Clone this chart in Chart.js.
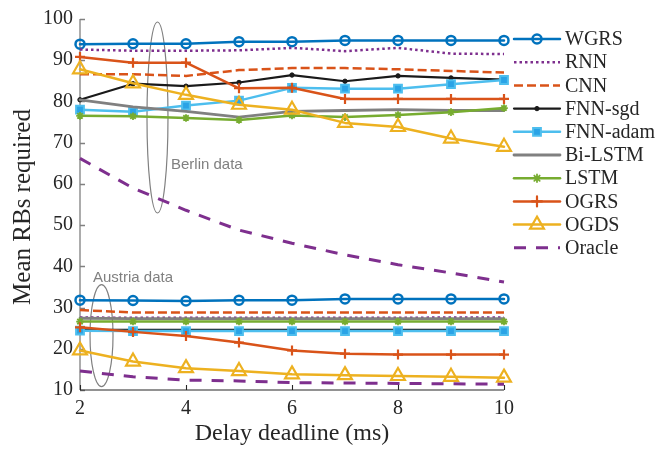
<!DOCTYPE html>
<html>
<head>
<meta charset="utf-8">
<script src="https://cdn.jsdelivr.net/npm/chart.js@4"></script>
<style>
  html, body { margin: 0; padding: 0; background: #fff; }
  #c { display: block; }
</style>
</head>
<body>
<canvas id="c" width="670" height="451"></canvas>
<script>
// Delay deadlines (ms) on the x axis
const deadlines = [2, 3, 4, 5, 6, 7, 8, 9, 10];
const xTicks = [2, 4, 6, 8, 10];
const yTicks = [10, 20, 30, 40, 50, 60, 70, 80, 90, 100];

// Method names, in legend order
const methods = ['WGRS', 'RNN', 'CNN', 'FNN-sgd', 'FNN-adam', 'Bi-LSTM', 'LSTM', 'OGRS', 'OGDS', 'Oracle'];

// Mean RBs required, Berlin data
const berlinWGRS    = [93.9, 94.0, 94.0, 94.5, 94.5, 94.8, 94.8, 94.8, 94.8];
const berlinRNN     = [92.6, 92.3, 92.3, 92.4, 93.0, 92.2, 93.0, 91.6, 91.5];
const berlinCNN     = [86.6, 86.6, 86.2, 87.6, 88.1, 88.1, 87.8, 87.4, 87.0];
const berlinFNNsgd  = [80.4, 84.3, 83.7, 84.6, 86.4, 84.9, 86.2, 85.7, 85.3];
const berlinFNNadam = [78.0, 77.5, 79.0, 80.2, 83.3, 83.1, 83.1, 84.2, 85.2];
const berlinBiLSTM  = [80.4, 78.7, 77.6, 76.2, 77.6, 77.8, 78.0, 77.8, 77.8];
const berlinLSTM    = [76.5, 76.4, 76.0, 75.5, 76.6, 76.2, 76.7, 77.4, 78.4];
const berlinOGRS    = [90.8, 89.4, 89.4, 83.2, 83.3, 80.6, 80.6, 80.6, 80.6];
const berlinOGDS    = [87.8, 84.4, 81.6, 79.2, 78.0, 74.8, 73.8, 71.0, 69.0];
const berlinOracle  = [66.2, 59.0, 53.6, 48.8, 45.6, 42.8, 40.4, 38.4, 36.2];

// Mean RBs required, Austria data
const austriaWGRS    = [31.8, 31.7, 31.6, 31.8, 31.8, 32.1, 32.1, 32.1, 32.1];
const austriaRNN     = [27.6, 27.5, 27.5, 27.5, 27.5, 27.5, 27.5, 27.6, 27.6];
const austriaCNN     = [29.4, 28.8, 28.8, 28.8, 28.8, 28.8, 28.8, 28.8, 28.8];
const austriaFNNsgd  = [24.6, 24.6, 24.6, 24.6, 24.6, 24.6, 24.6, 24.6, 24.6];
const austriaFNNadam = [24.4, 24.3, 24.3, 24.3, 24.3, 24.3, 24.3, 24.3, 24.3];
const austriaBiLSTM  = [27.4, 27.3, 27.3, 27.3, 27.3, 27.3, 27.3, 27.3, 27.3];
const austriaLSTM    = [26.6, 26.6, 26.6, 26.6, 26.6, 26.6, 26.6, 26.6, 26.6];
const austriaOGRS    = [25.2, 24.1, 23.1, 21.5, 19.6, 18.8, 18.6, 18.6, 18.6];
const austriaOGDS    = [19.6, 16.9, 15.3, 14.6, 13.8, 13.6, 13.4, 13.2, 13.0];
const austriaOracle  = [14.6, 13.2, 12.4, 12.2, 11.8, 11.7, 11.6, 11.5, 11.4];

const berlinSeries  = [berlinWGRS, berlinRNN, berlinCNN, berlinFNNsgd, berlinFNNadam,
                       berlinBiLSTM, berlinLSTM, berlinOGRS, berlinOGDS, berlinOracle];
const austriaSeries = [austriaWGRS, austriaRNN, austriaCNN, austriaFNNsgd, austriaFNNadam,
                       austriaBiLSTM, austriaLSTM, austriaOGRS, austriaOGDS, austriaOracle];

// Line / marker style per method
const styles = [
  { color: '#0072BD', width: 2.5, dash: [], point: 'circle', r: 4.5, fill: 'rgba(0,0,0,0)', pw: 2.5 },
  { color: '#7E2F8E', width: 2.5, dash: [2.5, 3], point: false },
  { color: '#D95319', width: 2.5, dash: [9, 4], point: false },
  { color: '#1a1a1a', width: 2.2, dash: [], point: 'circle', r: 2.2, fill: '#1a1a1a', pw: 1 },
  { color: '#4DBEEE', width: 2.5, dash: [], point: 'rect', r: 5.5, fill: '#2AA3E6', pw: 2 },
  { color: '#808080', width: 2.8, dash: [], point: false },
  { color: '#77AC30', width: 2.5, dash: [], point: 'star', r: 3.8, fill: 'rgba(0,0,0,0)', pw: 1.8 },
  { color: '#D95319', width: 2.5, dash: [], point: 'cross', r: 5, fill: 'rgba(0,0,0,0)', pw: 2.2 },
  { color: '#EDB120', width: 2.5, dash: [], point: 'triangle', r: 8, fill: 'rgba(0,0,0,0)', pw: 2.2 },
  { color: '#7E2F8E', width: 3, dash: [12, 10], point: false }
];

function makeDataset(name, values, st, idx, group) {
  return {
    label: name,
    group: group,
    data: deadlines.map((d, i) => ({ x: d, y: values[i] })),
    borderColor: st.color,
    borderWidth: st.width,
    borderDash: st.dash,
    borderCapStyle: st.dash.length ? 'butt' : 'round',
    borderJoinStyle: 'round',
    pointStyle: st.point || 'circle',
    pointRadius: st.point ? st.r : 0,
    pointBorderWidth: st.pw || 0,
    pointBorderColor: st.color,
    pointBackgroundColor: st.fill || 'rgba(0,0,0,0)',
    tension: 0,
    fill: false,
    clip: false,
    order: 100 - idx
  };
}

const datasets = [];
methods.forEach((m, i) => datasets.push(makeDataset(m, berlinSeries[i], styles[i], i, 'Berlin')));
methods.forEach((m, i) => datasets.push(makeDataset(m, austriaSeries[i], styles[i], i, 'Austria')));

const SERIF = '"Liberation Serif", "Times New Roman", serif';
const SANS = '"Liberation Sans", Arial, sans-serif';

// Axes, tick marks, axis titles, annotations and legend
const decorations = {
  id: 'decorations',
  beforeDatasetsDraw(chart) {
    const ctx = chart.ctx;
    const xs = chart.scales.x, ys = chart.scales.y;
    const L = xs.left, R = xs.right, T = ys.top, B = ys.bottom;
    ctx.save();
    ctx.setLineDash([]);
    // left axis (gray) with inward ticks
    ctx.strokeStyle = '#808080';
    ctx.lineWidth = 1.3;
    ctx.beginPath();
    ctx.moveTo(L, T); ctx.lineTo(L, B);
    yTicks.forEach(v => {
      const y = Math.round(ys.getPixelForValue(v)) + 0.5;
      ctx.moveTo(L, y); ctx.lineTo(L + 5, y);
    });
    ctx.stroke();
    // bottom axis (black) with inward ticks
    ctx.strokeStyle = '#262626';
    ctx.lineWidth = 1.1;
    ctx.beginPath();
    ctx.moveTo(L, B); ctx.lineTo(R, B);
    xTicks.forEach(v => {
      const x = Math.round(xs.getPixelForValue(v)) + 0.5;
      ctx.moveTo(x, B); ctx.lineTo(x, B - 5);
    });
    ctx.stroke();

    // group ellipses
    ctx.strokeStyle = '#808080';
    ctx.lineWidth = 1.2;
    ctx.beginPath();
    ctx.ellipse(xs.getPixelForValue(3.462), ys.getPixelForValue(76.1), 10.5, 95.5, 0, 0, Math.PI * 2);
    ctx.stroke();
    ctx.beginPath();
    ctx.ellipse(xs.getPixelForValue(2.406), ys.getPixelForValue(23.2), 11.5, 51, 0, 0, Math.PI * 2);
    ctx.stroke();

    ctx.fillStyle = '#808080';
    ctx.font = '15px ' + SANS;
    ctx.textAlign = 'left';
    ctx.textBaseline = 'middle';
    ctx.fillText('Berlin data', xs.getPixelForValue(3.717), ys.getPixelForValue(64.7));
    ctx.fillText('Austria data', xs.getPixelForValue(2.245), ys.getPixelForValue(37.1));
    ctx.restore();
  },
  afterDraw(chart) {
    const ctx = chart.ctx;
    const xs = chart.scales.x, ys = chart.scales.y;
    ctx.save();
    // axis titles
    ctx.fillStyle = '#262626';
    ctx.textAlign = 'center';
    ctx.textBaseline = 'middle';
    ctx.font = '24px ' + SERIF;
    ctx.fillText('Delay deadline (ms)', (xs.left + xs.right) / 2, 434);
    ctx.save();
    ctx.translate(23, 207);
    ctx.rotate(-Math.PI / 2);
    ctx.font = '25px ' + SERIF;
    ctx.fillText('Mean RBs required', 0, 0);
    ctx.restore();

    // legend: one entry per method
    const x0 = 514, x1 = 560, xm = 537, tx = 565;
    methods.forEach((m, i) => {
      const ds = chart.data.datasets[i];
      const y = 39 + i * 23.2;
      ctx.strokeStyle = ds.borderColor;
      ctx.lineWidth = ds.borderWidth;
      ctx.setLineDash(ds.borderDash);
      ctx.lineCap = ds.borderDash.length ? 'butt' : 'round';
      ctx.beginPath();
      ctx.moveTo(x0, y); ctx.lineTo(x1, y);
      ctx.stroke();
      ctx.setLineDash([]);
      if (ds.pointRadius > 0) {
        ctx.fillStyle = ds.pointBackgroundColor;
        ctx.strokeStyle = ds.pointBorderColor;
        ctx.lineWidth = ds.pointBorderWidth;
        Chart.helpers.drawPoint(ctx, {
          pointStyle: ds.pointStyle, rotation: 0,
          radius: ds.pointRadius, borderWidth: ds.pointBorderWidth
        }, xm, y);
      }
      ctx.fillStyle = '#262626';
      ctx.font = '20px ' + SERIF;
      ctx.textAlign = 'left';
      ctx.textBaseline = 'middle';
      ctx.fillText(m, tx, y + 1);
    });
    ctx.restore();
  }
};

new Chart(document.getElementById('c'), {
  type: 'line',
  data: { datasets },
  options: {
    responsive: false,
    animation: false,
    events: [],
    layout: { padding: { top: 15, right: 166, left: 0, bottom: 0 } },
    scales: {
      x: {
        type: 'linear', min: 2, max: 10,
        afterBuildTicks: s => { s.ticks = xTicks.map(v => ({ value: v })); },
        afterFit: s => { s.height = 61; },
        grid: { display: false, drawTicks: false },
        border: { display: false },
        ticks: { color: '#262626', font: { family: SERIF, size: 20 }, padding: 7, maxRotation: 0 }
      },
      y: {
        type: 'linear', min: 10, max: 100,
        afterBuildTicks: s => { s.ticks = yTicks.map(v => ({ value: v })); },
        afterFit: s => { s.width = 80; },
        grid: { display: false, drawTicks: false },
        border: { display: false },
        ticks: { color: '#262626', font: { family: SERIF, size: 20 }, padding: 7 }
      }
    },
    plugins: { legend: { display: false }, tooltip: { enabled: false } }
  },
  plugins: [decorations]
});
</script>
</body>
</html>
